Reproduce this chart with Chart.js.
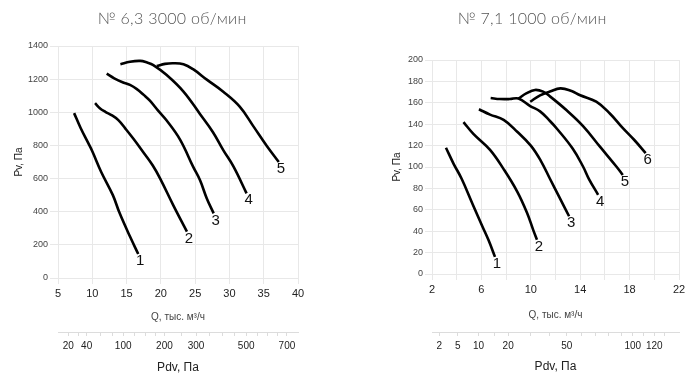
<!DOCTYPE html>
<html>
<head>
<meta charset="utf-8">
<script src="https://cdn.jsdelivr.net/npm/chart.js@4.4.1/dist/chart.umd.min.js"></script>
<style>
body { margin: 0; background: #fff; width: 700px; height: 382px; overflow: hidden; position: relative; }
.box { position: absolute; top: 0; width: 350px; height: 382px; }
.ttl { position: absolute; top: 8px; transform: translateX(-50%); white-space: nowrap; letter-spacing: 0.3px;
       font-family: Lato, "DejaVu Sans", sans-serif; font-weight: 300; font-size: 16px; color: #555; }
</style>
</head>
<body>
<div class="box" style="left:0"><canvas id="c63"></canvas></div>
<div class="box" style="left:350px"><canvas id="c71"></canvas></div>
<div class="ttl" style="left:172px">№ 6,3 3000 об/мин</div>
<div class="ttl" style="left:532px">№ 7,1 1000 об/мин</div>
<script>
// № 6,3 3000 об/мин : [Q тыс. м³/ч, Pv Па]
const fan63_1 = [[7.35,995],[8.3,905],[9.4,815],[10.0,765],[11.3,640],[13.0,500],[14.0,390],[15.5,250],[16.7,145]];
const fan63_2 = [[10.4,1055],[11.1,1025],[11.9,1003],[12.8,983],[13.8,953],[14.8,903],[16.0,840],[17.6,750],[18.8,680],[19.9,600],[21.8,440],[23.8,280]];
const fan63_3 = [[12.1,1233],[13.2,1205],[14.5,1180],[15.5,1165],[16.5,1140],[17.5,1105],[18.4,1070],[19.6,1010],[20.85,950],[22.8,835],[24.7,672],[25.7,591],[26.7,480],[27.7,390]];
const fan63_4 = [[14.1,1290],[15.5,1305],[17.0,1310],[18.0,1300],[18.9,1285],[20.85,1225],[23.3,1125],[25.7,990],[27.6,880],[29.1,772],[30.6,672],[32.5,511]];
const fan63_5 = [[19.4,1279],[20.6,1292],[21.8,1296],[23.3,1290],[24.7,1260],[26.7,1197],[29.1,1124],[31.5,1034],[33.5,915],[35.4,800],[37.2,700]];

// № 7,1 1000 об/мин
const fan71_1 = [[3.13,118],[3.75,103],[4.4,89],[5.3,65],[6.1,44],[6.6,31],[7.1,16]];
const fan71_2 = [[4.55,142],[5.35,131],[6.7,116],[7.8,98],[8.9,77],[9.7,57],[10.2,41],[10.5,32]];
const fan71_3 = [[5.8,154],[6.7,149],[7.8,144],[8.9,133],[10.0,120],[10.8,106],[11.55,89],[12.3,72],[13.1,54]];
const fan71_4 = [[6.75,164.5],[7.5,163.5],[8.3,163.5],[9.0,164],[9.95,157],[10.75,152],[11.55,143],[12.1,136],[13.4,117],[14.25,100],[14.7,89],[15.45,74]];
const fan71_5 = [[9.0,164],[9.67,169],[10.34,172],[11.0,170.4],[11.55,166],[12.9,153],[14.25,138],[15.6,119],[16.96,100],[17.45,92.5]];
const fan71_6 = [[9.95,161],[10.75,167],[11.55,170.5],[12.4,173.5],[13.3,171],[14.0,167],[15.3,161],[16.4,150],[17.4,137],[18.4,125],[19.3,113]];

// x ticks
const q63Ticks = [5,10,15,20,25,30,35,40];
const q63Labels = [5,10,15,20,25,30,35,40];
const q71Ticks = [2,4,6,8,10,12,14,16,18,20,22];
const q71Labels = [2,6,10,14,18,22];

// Pdv scale under the Q axis (Pdv = k * Q^2)
const pdv63Ticks = [20,30,40,60,80,100,125,150,175,200,250,300,350,400,450,500,550,600,650,700];
const pdv63Labels = [20,40,100,200,300,500,700];
const pdv63K = 0.475;
const pdv71Ticks = [2,5,10,15,20,30,40,50,60,70,80,90,100,110,120,130];
const pdv71Labels = [2,5,10,20,50,100,120];
const pdv71K = 0.30;

const gridColor = '#e8e8e8';
const font = '"Liberation Sans", Arial, sans-serif';

// curve numbers at the end of each line
const curveNumbers = {
  id: 'curveNumbers',
  afterDatasetsDraw(chart) {
    const ctx = chart.ctx;
    ctx.save();
    ctx.font = '15px ' + font;
    ctx.fillStyle = '#111';
    ctx.textAlign = 'center';
    ctx.textBaseline = 'middle';
    chart.data.datasets.forEach((ds, i) => {
      const pts = chart.getDatasetMeta(i).data;
      const end = pts[pts.length - 1];
      ctx.fillText(ds.label, end.x + 2, end.y + 7);
    });
    ctx.restore();
  }
};

function fanChart(id, o) {
  return new Chart(document.getElementById(id), {
    type: 'line',
    data: {
      datasets: o.curves.map((c, i) => ({
        label: String(i + 1),
        data: c.map(p => ({x: p[0], y: p[1]})),
        borderColor: '#000',
        borderWidth: 2.6,
        pointRadius: 0,
        tension: 0.4,
        fill: false
      }))
    },
    options: {
      responsive: true,
      maintainAspectRatio: false,
      animation: false,
      layout: {padding: o.padding},
      plugins: {legend: {display: false}, tooltip: {enabled: false}},
      scales: {
        x: {
          type: 'linear', position: 'bottom', weight: 0,
          min: o.qTicks[0], max: o.qTicks[o.qTicks.length - 1],
          afterBuildTicks: s => { s.ticks = o.qTicks.map(v => ({value: v})); },
          afterFit: s => { s.height = o.qHeight; },
          ticks: {autoSkip: false, maxRotation: 0, padding: 3, color: '#222', font: {family: font, size: 11},
                  callback: v => o.qLabels.includes(v) ? String(v) : ''},
          grid: {color: gridColor, tickLength: 6},
          border: {color: gridColor},
          title: {display: true, text: 'Q, тыс. м³/ч', color: '#444', font: {family: font, size: 10},
                  padding: {top: 0, bottom: o.qTitlePad}}
        },
        pdv: {
          type: 'linear', position: 'bottom', weight: 1,
          min: o.qTicks[0], max: o.qTicks[o.qTicks.length - 1],
          afterBuildTicks: s => { s.ticks = o.pdvTicks.map(p => ({value: Math.sqrt(p / o.pdvK)})); },
          afterFit: s => { s.height = 50; },
          ticks: {autoSkip: false, maxRotation: 0, padding: 4, color: '#222', font: {family: font, size: 10},
                  callback: (v, i) => o.pdvLabels.includes(o.pdvTicks[i]) ? String(o.pdvTicks[i]) : ''},
          grid: {drawOnChartArea: false, color: '#dcdcdc', tickLength: 4},
          border: {color: '#dcdcdc'},
          title: {display: true, text: 'Pdv, Па', color: '#222', font: {family: font, size: 12},
                  padding: {top: 0, bottom: o.pdvTitlePad}}
        },
        y: {
          type: 'linear', min: 0, max: o.yMax,
          afterFit: s => { s.width = o.yWidth; },
          ticks: {stepSize: o.yStep, padding: 2, color: '#444', font: {family: font, size: 9},
                  callback: v => String(v)},
          grid: {color: gridColor, tickLength: o.yTick},
          border: {color: gridColor},
          title: {display: true, text: 'Pv, Па', color: '#222', font: {family: font, size: 10},
                  padding: {top: o.yTitlePad, bottom: 0}}
        }
      }
    },
    plugins: [curveNumbers]
  });
}

fanChart('c63', {
  curves: [fan63_1, fan63_2, fan63_3, fan63_4, fan63_5],
  qTicks: q63Ticks, qLabels: q63Labels,
  pdvTicks: pdv63Ticks, pdvLabels: pdv63Labels, pdvK: pdv63K,
  yMax: 1400, yStep: 200,
  padding: {left: 0, top: 46, right: 52, bottom: 0},
  yWidth: 58, yTick: 8, yTitlePad: 13,
  qHeight: 54, qTitlePad: 9, pdvTitlePad: 7
});

fanChart('c71', {
  curves: [fan71_1, fan71_2, fan71_3, fan71_4, fan71_5, fan71_6],
  qTicks: q71Ticks, qLabels: q71Labels,
  pdvTicks: pdv71Ticks, pdvLabels: pdv71Labels, pdvK: pdv71K,
  yMax: 200, yStep: 20,
  padding: {left: 30, top: 60, right: 21, bottom: 0},
  yWidth: 52, yTick: 7, yTitlePad: 11,
  qHeight: 58, qTitlePad: 11, pdvTitlePad: 8
});
</script>
</body>
</html>
